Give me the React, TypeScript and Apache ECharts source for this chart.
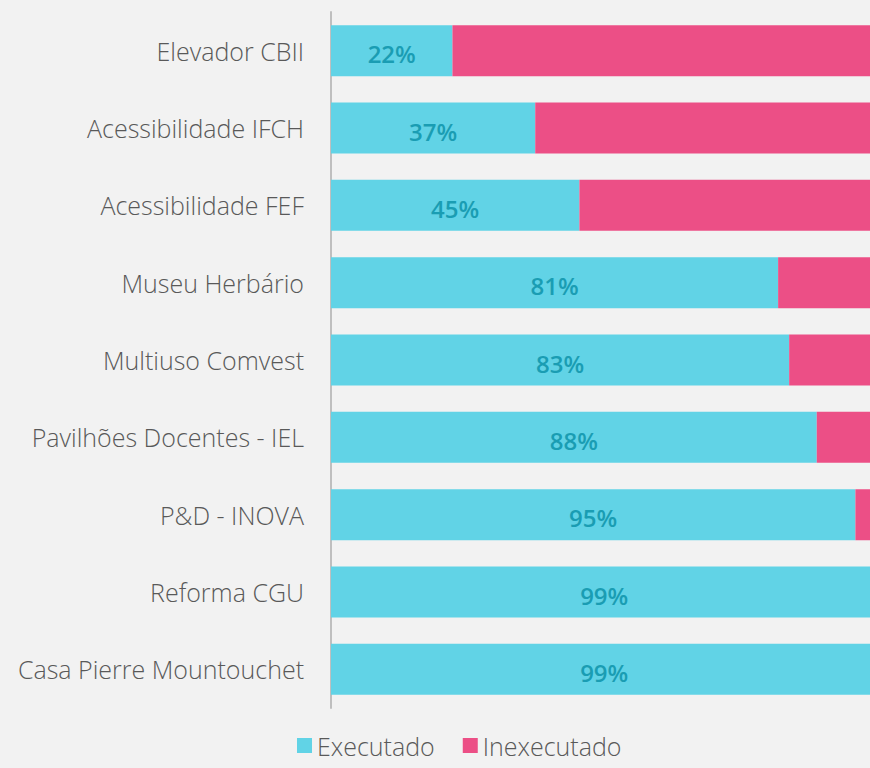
import React, { useEffect, useRef } from "react";
import * as echarts from "echarts";

const categories = [
  "Elevador CBII",
  "Acessibilidade IFCH",
  "Acessibilidade FEF",
  "Museu Herbário",
  "Multiuso Comvest",
  "Pavilhões Docentes - IEL",
  "P&D - INOVA",
  "Reforma CGU",
  "Casa Pierre Mountouchet",
];
const executado = [22, 37, 45, 81, 83, 88, 95, 99, 99];
const inexecutado = [78, 63, 55, 19, 17, 12, 5, 1, 1];

export default function App() {
  const ref = useRef<HTMLDivElement>(null);
  useEffect(() => {
    if (!ref.current) return;
    const chart = echarts.init(ref.current, null, { renderer: "svg" });
    chart.setOption({
      animation: false,
      backgroundColor: "#f2f2f2",
      textStyle: { fontFamily: "Open Sans" },
      grid: { left: 331, right: 0, top: 12, bottom: 60, containLabel: false },
      xAxis: { type: "value", min: 0, max: 100, show: false },
      yAxis: {
        type: "category",
        inverse: true,
        data: categories,
        axisLine: { show: true, lineStyle: { color: "#bfbfbf", width: 2 } },
        axisTick: { show: false },
        axisLabel: { color: "#595959", fontSize: 25, margin: 27, fontFamily: "Open Sans", fontWeight: 300 },
        splitLine: { show: false },
      },
      legend: {
        left: 297,
        top: 733,
        padding: 0,
        itemWidth: 15,
        itemHeight: 15,
        itemGap: 28,
        icon: "rect",
        textStyle: { color: "#595959", fontSize: 25, fontFamily: "Open Sans", fontWeight: 300 },
        data: ["Executado", "Inexecutado"],
      },
      series: [
        {
          name: "Executado",
          type: "bar",
          stack: "total",
          barWidth: "66%",
          data: executado,
          itemStyle: { color: "#61d3e6" },
          label: {
            show: true,
            position: "inside",
            formatter: "{c}%",
            color: "#1a9db3",
            fontSize: 24,
            fontWeight: 600,
            fontFamily: "Open Sans",
            offset: [0, 3],
          },
        },
        {
          name: "Inexecutado",
          type: "bar",
          stack: "total",
          barWidth: "66%",
          data: inexecutado,
          itemStyle: { color: "#ec4f86" },
        },
      ],
    });
    return () => chart.dispose();
  }, []);
  return (
    <div
      style={{ position: "fixed", left: 0, top: 0, width: 870, height: 768, overflow: "hidden", background: "#f2f2f2" }}
    >
      <div ref={ref} style={{ width: 883, height: 768 }} />
    </div>
  );
}
